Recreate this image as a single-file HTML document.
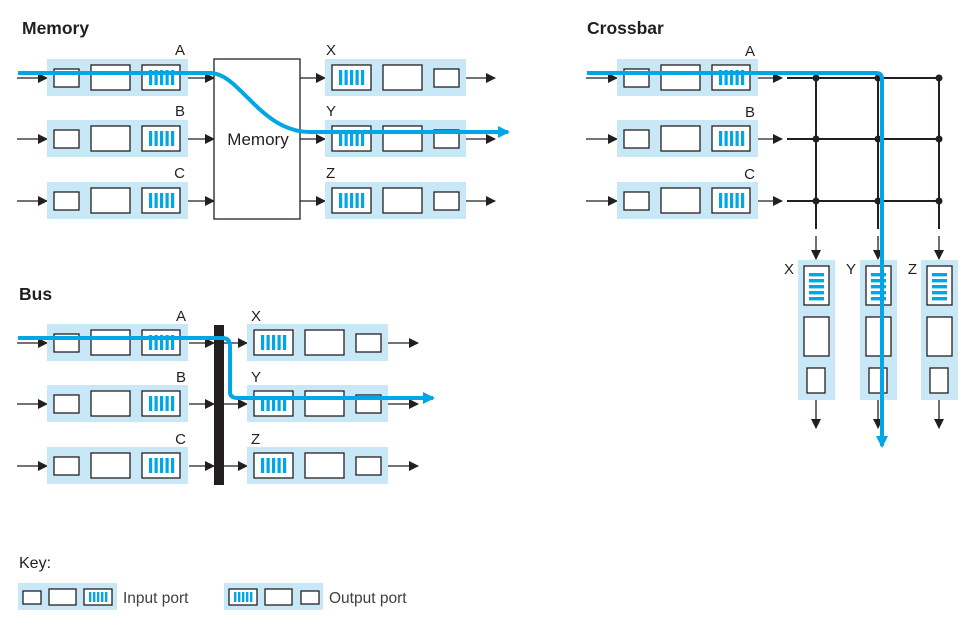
<!DOCTYPE html>
<html><head><meta charset="utf-8">
<style>
html,body{margin:0;padding:0;background:#fff;}
svg{display:block;font-family:"Liberation Sans",sans-serif;}
.t{font-size:15px;fill:#231f20;}
.h{font-size:17.5px;font-weight:bold;fill:#231f20;}
</style></head>
<body>
<svg id="s" width="973" height="618" viewBox="0 0 973 618" xmlns="http://www.w3.org/2000/svg">
<defs>
<marker id="ar" markerWidth="10" markerHeight="10" refX="9" refY="5" orient="auto" markerUnits="userSpaceOnUse"><path d="M0,0 L10,5 L0,10 Z" fill="#231f20"/></marker>
<marker id="ab" markerWidth="12" markerHeight="12" refX="10" refY="6" orient="auto" markerUnits="userSpaceOnUse"><path d="M0,0 L12,6 L0,12 Z" fill="#00a6e6"/></marker>
</defs>
<g id="g"></g>
</svg>
<script>
const NS='http://www.w3.org/2000/svg';
const G=document.getElementById('g');
function el(tag,at,name,parent){const e=document.createElementNS(NS,tag);for(const k in at)e.setAttribute(k,at[k]);


(parent||G).appendChild(e);return e;}
function txt(x,y,s,cls,name,anchor){const e=el('text',{x:x,y:y,class:cls,'text-anchor':anchor||'start'},name);e.textContent=s;return e;}
function arrow(x1,y1,x2,y2,name){el('line',{x1:x1,y1:y1,x2:x2,y2:y2,stroke:'#231f20','stroke-width':1.3,'marker-end':'url(#ar)'},name);}
function box(x,y,w,h,name){el('rect',{x:x,y:y,width:w,height:h,fill:'#fff',stroke:'#231f20','stroke-width':1.3},name);}
function hq(x,y,w,h,name){box(x,y,w,h,name);for(let i=0;i<5;i++)el('rect',{x:x+7+i*5.5,y:y+5,width:3.2,height:h-10,fill:'#00a6e6'},name+'-bar');}
function vq(x,y,w,h,name){box(x,y,w,h,name);for(let i=0;i<5;i++)el('rect',{x:x+5,y:y+7+i*6,width:w-10,height:3.4,fill:'#00a6e6'},name+'-bar');}
function inPort(x,yc,name){el('rect',{x:x,y:yc-19,width:141,height:37,fill:'#c8e8f7'},name);
box(x+7,yc-9,25,18,name+'-small');box(x+44,yc-13,39,25,name+'-mid');hq(x+95,yc-13,38,25,name+'-queue');}
function outPort(x,yc,name){el('rect',{x:x,y:yc-19,width:141,height:37,fill:'#c8e8f7'},name);
hq(x+7,yc-13,39,25,name+'-queue');box(x+58,yc-13,39,25,name+'-mid');box(x+109,yc-9,25,18,name+'-small');}
const rowsIn=['A','B','C'],rowsOut=['X','Y','Z'];
// Memory
txt(22,34,'Memory','h','memory-title');
const my=[78,139,201];
my.forEach((y,i)=>{arrow(17,y,47,y,'mem-in-arrow');inPort(47,y,'mem-input-port-'+rowsIn[i]);txt(185,y-23,rowsIn[i],'t','mem-label-'+rowsIn[i],'end');
arrow(188,y,214,y,'mem-to-memory-arrow');arrow(300,y,325,y,'mem-out-arrow');outPort(325,y,'mem-output-port-'+rowsOut[i]);txt(326,y-23,rowsOut[i],'t','mem-label-'+rowsOut[i]);arrow(466,y,495,y,'mem-exit-arrow');});
el('rect',{x:214,y:59,width:86,height:160,fill:'#fff',stroke:'#231f20','stroke-width':1.3},'memory-box');
txt(258,145,'Memory','t','memory-label','middle').setAttribute('style','font-size:17px');
el('path',{d:'M18,73 L210,73 C240,73 260,132 310,132 L508,132',fill:'none',stroke:'#00a6e6','stroke-width':4,'marker-end':'url(#ab)'},'memory-path');
// Bus
txt(19,300,'Bus','h','bus-title');
const by=[343,404,466];
by.forEach((y,i)=>{arrow(17,y,47,y,'bus-in-arrow');inPort(47,y,'bus-input-port-'+rowsIn[i]);txt(186,y-22,rowsIn[i],'t','bus-label-'+rowsIn[i],'end');
arrow(189,y,214,y,'bus-to-bus-arrow');arrow(224,y,247,y,'bus-out-arrow');outPort(247,y,'bus-output-port-'+rowsOut[i]);txt(251,y-22,rowsOut[i],'t','bus-label-'+rowsOut[i]);arrow(388,y,418,y,'bus-exit-arrow');});
el('rect',{x:214,y:325,width:10,height:160,fill:'#231f20'},'bus-bar');
el('path',{d:'M18,338 L222,338 Q230,338 230,346 L230,392 Q230,398 238,398 L433,398',fill:'none',stroke:'#00a6e6','stroke-width':4,'marker-end':'url(#ab)'},'bus-path');
// Crossbar
txt(587,34,'Crossbar','h','crossbar-title');
const cy=[78,139,201],cx=[816,878,939];
cy.forEach((y,i)=>{arrow(586,y,617,y,'xb-in-arrow');inPort(617,y,'xb-input-port-'+rowsIn[i]);txt(755,y-22,rowsIn[i],'t','xb-label-'+rowsIn[i],'end');
arrow(758,y,782,y,'xb-to-grid-arrow');el('line',{x1:787,y1:y,x2:939,y2:y,stroke:'#231f20','stroke-width':2},'xb-row-line');});
cx.forEach((x,j)=>{el('line',{x1:x,y1:78,x2:x,y2:229,stroke:'#231f20','stroke-width':2},'xb-col-line');
cy.forEach(y=>el('circle',{cx:x,cy:y,r:3.5,fill:'#231f20'},'xb-crosspoint'));
arrow(x,236,x,259,'xb-down-arrow');
const bx=x-18;el('rect',{x:bx,y:260,width:37,height:140,fill:'#c8e8f7'},'xb-output-port-'+rowsOut[j]);
vq(bx+6,266,25,39,'xb-out-queue');box(bx+6,317,25,39,'xb-out-mid');box(bx+9,368,18,25,'xb-out-small');
txt(bx-4,274,rowsOut[j],'t','xb-label-'+rowsOut[j],'end');arrow(x,400,x,428,'xb-exit-arrow');});
el('path',{d:'M587,73 L876,73 Q882,73 882,79 L882,446',fill:'none',stroke:'#00a6e6','stroke-width':4,'marker-end':'url(#ab)'},'crossbar-path');
// Key
txt(19,568,'Key:','t','key-title').setAttribute('style','font-size:16px');
el('rect',{x:18,y:583,width:99,height:27,fill:'#c8e8f7'},'key-input-port');
box(23,591,18,13,'key-in-small');box(49,589,27,16,'key-in-mid');
box(84,589,28,16,'key-in-queue');for(let i=0;i<5;i++)el('rect',{x:89+i*4,y:592,width:2.4,height:10,fill:'#00a6e6'},'key-in-bar');
txt(123,603,'Input port','t','key-input-label').setAttribute('style','font-size:15.5px;fill:#404040');
el('rect',{x:224,y:583,width:99,height:27,fill:'#c8e8f7'},'key-output-port');
box(229,589,28,16,'key-out-queue');for(let i=0;i<5;i++)el('rect',{x:234+i*4,y:592,width:2.4,height:10,fill:'#00a6e6'},'key-out-bar');
box(265,589,27,16,'key-out-mid');box(301,591,18,13,'key-out-small');
txt(329,603,'Output port','t','key-output-label').setAttribute('style','font-size:15.5px;fill:#404040');
</script>
</body></html>
